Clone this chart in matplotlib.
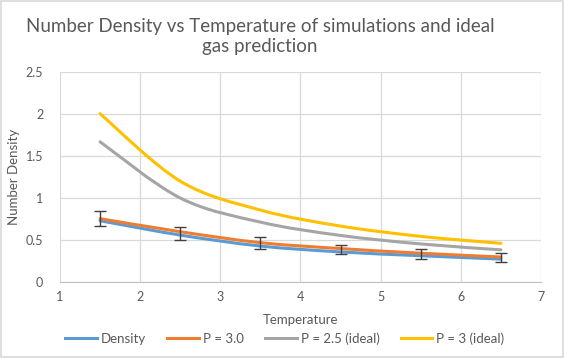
import numpy as np
import matplotlib.pyplot as plt
from matplotlib.path import Path
from matplotlib.patches import PathPatch, Rectangle
from matplotlib.lines import Line2D

# data
temperature = [1.5, 2.5, 3.5, 4.5, 5.5, 6.5]
density = [0.73, 0.56, 0.43, 0.36, 0.315, 0.275]
p3_sim = [0.755, 0.60, 0.47, 0.40, 0.345, 0.30]
p25_ideal = [1.667, 1.0, 0.714, 0.556, 0.455, 0.385]
p3_ideal = [2.0, 1.2, 0.857, 0.667, 0.545, 0.462]
err_low = [0.67, 0.50, 0.395, 0.335, 0.28, 0.245]
err_high = [0.84, 0.66, 0.535, 0.447, 0.39, 0.345]

series_names = ["Density", "P = 3.0", "P = 2.5 (ideal)", "P = 3 (ideal)"]
colors = ["#5B9BD5", "#ED7D31", "#A5A5A5", "#FFC000"]
text_col = "#595959"
grid_col = "#D9D9D9"


def smooth_path(xs, ys):
    # Excel-style smoothed line: cubic bezier through the points
    pts = np.column_stack([xs, ys]).astype(float)
    n = len(pts)
    verts = [pts[0]]
    codes = [Path.MOVETO]
    for i in range(n - 1):
        p0 = pts[i - 1] if i > 0 else pts[i]
        p1 = pts[i]
        p2 = pts[i + 1]
        p3 = pts[i + 2] if i + 2 < n else pts[i + 1]
        c1 = p1 + (p2 - p0) / 6.0
        c2 = p2 - (p3 - p1) / 6.0
        verts += [c1, c2, p2]
        codes += [Path.CURVE4] * 3
    return Path(verts, codes)


plt.rcParams['font.family'] = ['Lato', 'DejaVu Sans']

fig = plt.figure(figsize=(5.64, 3.58), dpi=100)
ax = fig.add_axes([0.1064, 0.2115, 0.8528, 0.5885])

lw = 2.2
for ys, col in zip([density, p3_sim, p25_ideal, p3_ideal], colors):
    ax.add_patch(PathPatch(smooth_path(temperature, ys), facecolor="none",
                           edgecolor=col, lw=lw, capstyle="round", zorder=3))

dens = np.array(density)
yerr = [dens - np.array(err_low), np.array(err_high) - dens]
ax.errorbar(temperature, density, yerr=yerr, fmt="none", ecolor="#404040",
            elinewidth=1.0, capsize=4, capthick=1.0, zorder=4)

ax.set_xlim(1, 7)
ax.set_ylim(0, 2.5)
ax.set_xticks(range(1, 8))
ax.set_yticks([0, 0.5, 1, 1.5, 2, 2.5])
ax.set_yticklabels(["0", "0.5", "1", "1.5", "2", "2.5"])
ax.grid(True, color=grid_col, lw=0.9)
ax.set_axisbelow(True)
for side in ["top", "right", "left"]:
    ax.spines[side].set_visible(False)
ax.spines["bottom"].set_color("#BFBFBF")
ax.tick_params(axis="x", length=0, labelsize=9, colors=text_col, pad=6)
ax.tick_params(axis="y", length=0, labelsize=9, colors=text_col, pad=12)

ax.set_xlabel("Temperature", fontsize=9.5, color=text_col, labelpad=8)
ax.set_ylabel("Number Density", fontsize=9.5, color=text_col)
ax.yaxis.set_label_coords(-0.083, 0.5)

fig.text(0.461, 0.898, "Number Density vs Temperature of simulations and ideal\ngas prediction",
         ha="center", va="center", fontsize=13.5, color=text_col, linespacing=1.2)

handles = [Line2D([], [], color=c, lw=lw) for c in colors]
fig.legend(handles, series_names, loc="center", bbox_to_anchor=(0.505, 0.055),
           ncol=4, frameon=False, fontsize=9.5, labelcolor=text_col,
           handlelength=2.4, handletextpad=0.3, columnspacing=1.6)

fig.patches.append(Rectangle((0.001, 0.002), 0.997, 0.995, transform=fig.transFigure,
                             fill=False, edgecolor=grid_col, lw=1.2))

fig.savefig("out.png", dpi=100)
